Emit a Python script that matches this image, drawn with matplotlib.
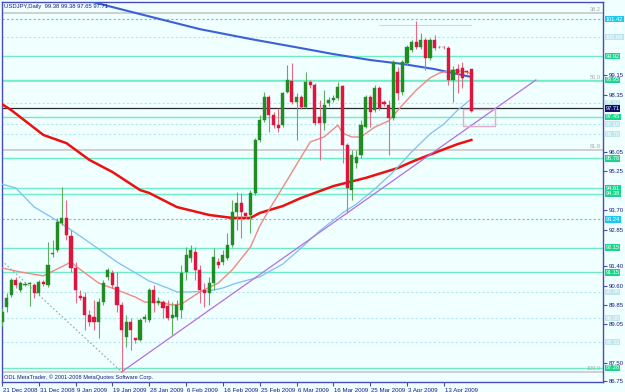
import matplotlib
matplotlib.use("Agg")
import matplotlib.pyplot as plt
import matplotlib.transforms as mtransforms
from matplotlib.patches import Rectangle

plt.rcParams['font.family'] = ['Liberation Sans', 'DejaVu Sans']

# ---------------- data ----------------
date_labels = ["21 Dec 2008", "31 Dec 2008", "9 Jan 2009", "19 Jan 2009", "28 Jan 2009",
               "6 Feb 2009", "16 Feb 2009", "25 Feb 2009", "6 Mar 2009", "16 Mar 2009",
               "25 Mar 2009", "3 Apr 2009", "13 Apr 2009"]
date_label_bars = [0, 8, 16, 24, 32, 40, 48, 56, 64, 72, 80, 88, 96]

opens = [89.14, 89.75, 90.24, 90.84, 90.44, 90.66, 90.70, 90.64, 90.32, 90.76,
         90.64, 91.90, 92.06, 93.15, 93.36, 92.63, 91.33, 90.20, 90.15, 89.43,
         89.34, 89.14, 89.95, 90.97, 91.13, 90.56, 89.83, 88.53, 89.14, 88.49,
         88.41, 89.26, 89.22, 90.44, 89.91, 89.95, 89.79, 89.30, 89.34, 89.63,
         91.17, 91.74, 91.98, 91.25, 90.44, 90.32, 90.72, 91.57, 91.57, 91.74,
         92.26, 93.60, 93.96, 93.56, 93.48, 94.37, 96.52, 97.33, 98.26, 97.53,
         97.12, 97.12, 98.46, 98.91, 98.06, 98.26, 97.85, 98.87, 98.75, 97.45,
         97.21, 98.02, 98.14, 98.22, 98.70, 96.31, 94.49, 95.58, 95.91, 97.04,
         98.26, 97.73, 98.62, 98.06, 97.93, 97.41, 99.27, 98.46, 99.64, 100.16,
         100.49, 100.29, 100.57, 99.84, 100.57, 100.27, 100.29, 100.24, 98.95, 99.39,
         99.43, 99.29, 99.38]
highs = [89.71, 90.32, 90.92, 90.97, 90.80, 90.76, 90.76, 90.72, 90.84, 90.84,
         92.38, 92.46, 93.36, 94.61, 94.09, 92.87, 91.57, 90.44, 90.36, 89.63,
         90.03, 90.11, 90.84, 91.33, 91.25, 91.17, 89.95, 89.43, 89.30, 88.49,
         89.30, 89.47, 90.52, 90.64, 90.15, 90.03, 90.03, 89.95, 90.03, 91.45,
         92.18, 92.26, 92.18, 91.45, 90.72, 90.97, 92.14, 91.74, 92.06, 92.75,
         94.09, 94.41, 94.37, 93.60, 94.49, 96.60, 97.53, 98.46, 98.34, 97.65,
         97.81, 98.46, 99.56, 99.64, 98.42, 98.34, 99.27, 98.95, 98.83, 98.14,
         98.54, 98.26, 98.34, 98.87, 98.75, 96.39, 96.11, 96.11, 97.33, 98.34,
         98.34, 98.75, 98.70, 98.14, 98.14, 99.76, 99.47, 99.76, 100.37, 100.57,
         101.34, 100.85, 100.65, 100.65, 100.77, 100.33, 100.33, 100.33, 99.52, 99.60,
         99.68, 99.35, 99.38]
lows = [88.98, 89.55, 90.15, 90.52, 90.36, 90.60, 89.79, 90.11, 90.24, 90.60,
        90.56, 91.78, 91.98, 93.07, 92.46, 91.17, 89.91, 90.03, 88.82, 88.98,
        88.82, 88.49, 89.83, 90.84, 90.52, 89.55, 87.12, 88.13, 88.01, 88.29,
        88.37, 89.14, 89.14, 89.55, 89.83, 89.30, 89.22, 88.62, 89.22, 89.30,
        90.84, 91.57, 90.84, 89.91, 89.75, 89.83, 90.44, 91.33, 91.45, 91.65,
        92.18, 92.87, 92.55, 93.36, 92.75, 94.29, 96.43, 97.25, 96.84, 97.00,
        96.84, 97.04, 98.42, 97.98, 96.52, 97.77, 97.81, 98.62, 97.12, 95.71,
        96.92, 97.89, 98.06, 98.14, 95.58, 93.56, 94.09, 95.38, 95.79, 97.00,
        97.04, 97.65, 97.73, 97.89, 95.91, 97.33, 98.14, 98.34, 99.56, 100.08,
        100.20, 100.20, 99.35, 99.76, 100.16, 100.24, 100.20, 98.75, 98.06, 98.42,
        98.62, 99.19, 97.65]
closes = [89.55, 90.11, 90.84, 90.64, 90.72, 90.68, 90.72, 90.32, 90.76, 90.68,
          91.45, 91.94, 93.19, 93.36, 92.67, 91.33, 90.44, 90.11, 89.43, 89.14,
          89.14, 89.95, 90.72, 91.25, 90.64, 89.83, 88.82, 89.14, 88.82, 88.41,
          89.22, 89.34, 90.44, 89.91, 89.99, 89.71, 89.30, 89.43, 89.83, 91.13,
          91.86, 92.06, 91.25, 90.44, 90.32, 90.72, 91.78, 91.45, 91.86, 92.26,
          93.60, 93.96, 93.60, 93.44, 94.37, 96.52, 97.33, 98.26, 97.53, 97.12,
          97.00, 98.42, 98.95, 98.06, 98.26, 97.85, 98.87, 98.75, 97.21, 97.21,
          97.93, 98.14, 98.22, 98.66, 96.31, 94.57, 95.91, 95.83, 97.12, 98.26,
          97.65, 98.62, 97.81, 97.98, 97.41, 99.68, 98.42, 99.68, 100.29, 100.49,
          100.29, 100.57, 99.84, 100.57, 100.24, 100.29, 100.27, 98.95, 99.35, 99.23,
          99.03, 99.27, 97.71]

# moving averages, read at sampled bars
ma_red_bars = [0, 2, 9, 14, 19, 24, 30, 32, 38, 45, 50, 54, 56, 61, 65, 72, 79, 86, 89, 95, 99, 102]
ma_red_vals = [97.97, 97.73, 96.72, 96.39, 95.71, 95.22, 94.49, 94.37, 93.80, 93.48, 93.36,
               93.36, 93.56, 93.84, 94.17, 94.65, 94.98, 95.38, 95.63, 96.07, 96.35, 96.52]
ma_blue_bars = [0, 18, 30, 43, 54, 65, 72, 80, 87, 94, 102]
ma_blue_vals = [103.10, 102.19, 101.62, 101.01, 100.61, 100.24, 100.00, 99.76, 99.60, 99.39, 99.07]
ma_pink_bars = [0, 4, 9, 15, 16, 21, 25, 29, 31, 34, 37, 39, 43, 47, 50, 54, 56, 58, 62, 65,
                67, 70, 73, 74, 76, 78, 81, 84, 87, 90, 93, 95, 98, 101, 102]
ma_pink_vals = [91.33, 91.17, 91.01, 91.57, 91.41, 90.72, 90.44, 90.15, 89.95, 89.95, 89.83,
                89.87, 90.36, 90.72, 91.25, 92.18, 93.03, 93.68, 94.90, 95.83, 96.44, 96.64,
                97.12, 96.80, 96.64, 96.64, 97.04, 97.29, 97.93, 98.54, 99.03, 99.23, 99.35,
                99.27, 99.19]
ma_sky_bars = [0, 3, 7, 11, 16, 21, 25, 29, 32, 36, 38, 41, 45, 48, 51, 56, 61, 65, 69, 74,
               77, 81, 85, 89, 93, 96, 99, 102]
ma_sky_vals = [94.73, 94.57, 93.80, 93.36, 92.75, 92.10, 91.57, 91.13, 90.80, 90.52, 90.36,
               90.36, 90.40, 90.52, 90.72, 90.97, 91.49, 92.14, 92.83, 93.56, 93.92, 94.53,
               95.22, 96.03, 96.76, 97.16, 97.73, 98.18]

# trend line through the two lows, and fibonacci anchors
trend_bars = [26, 75]
trend_prices = [87.12, 93.56]
trend_end_bar = 116
fib_high_bar, fib_high = -110, 110.66
fib_low_bar, fib_low = 26, 87.12
fib_ratios = [0.382, 0.5, 0.618, 1.0]
fib_texts = ["38.2", "50.0", "61.8", "100.0"]

# horizontal levels: (price, label)
solid_levels = [99.92, 98.95, 97.45, 95.78, 94.57, 94.33, 92.15, 91.15, 87.28]
solid_labels = ["99.92", "98.95", "97.45", "95.78", "94.61", "94.38", "92.15", "91.15", "87.28"]
cyan_levels = [101.42, 93.30]
cyan_labels = ["101.42", "93.24"]
pale_levels = [100.69, 98.02, 97.16, 96.76, 90.36, 89.30, 88.33]
pale_labels = ["100.69", "98.02", "97.16", "96.76", "90.36", "89.30", "88.33"]
bid_price = 97.80
bid_label = "97.71"

yticks = [99.15, 98.35, 96.05, 95.25, 93.70, 92.85, 91.40, 90.60, 89.85, 89.05, 87.50, 86.75]

rect_bars = [100.2, 107.2]
rect_prices = [97.08, 97.77]
top_line_bars = [82, 102]
top_line_price = 101.17

# ---------------- drawing ----------------
BG = '#F0FFFF'
NAVY = '#1A1A80'
FRAME = '#4B4BB8'

fig = plt.figure(figsize=(6.25, 3.92), dpi=100, facecolor=BG)
ax = fig.add_axes([2/625, 1 - 382/392, 601/625, 380/392])
ax.set_facecolor(BG)
ax.set_xlim(0.02, 130.6)
ax.set_ylim(86.71, 102.11)

tr = mtransforms.blended_transform_factory(ax.transAxes, ax.transData)

# fib levels
for r, t in zip(fib_ratios, fib_texts):
    p = fib_low + (1 - r) * (fib_high - fib_low)
    ax.axhline(p, color='#C4C4C4', lw=1.1, zorder=1)
    ax.text(0.997, p + 0.04, t, transform=tr,
            ha='right', va='bottom', fontsize=4.1, color='#A8A8A8', zorder=2)
ax.plot([fib_high_bar, fib_low_bar], [fib_high, fib_low], color='#A0A0A0', lw=0.8,
        ls=(0, (1.5, 2)), zorder=2)

for p in solid_levels:
    ax.axhline(p, color='#70EBC4', lw=1.0, zorder=1)
for p in cyan_levels:
    ax.axhline(p, color='#38D8F0', lw=0.8, ls=(0, (2, 2)), zorder=1)
for p in pale_levels:
    ax.axhline(p, color='#B4E6EE', lw=0.8, ls=(0, (2, 2)), zorder=1)
ax.axhline(bid_price, color='#2A2A2A', lw=0.9, zorder=1)

# moving averages
ax.plot(ma_blue_bars, ma_blue_vals, color='#3A5FD9', lw=1.5, zorder=4)
ax.plot(ma_red_bars, ma_red_vals, color='#EE1010', lw=1.8, zorder=4)
ax.plot(ma_pink_bars, ma_pink_vals, color='#F08A80', lw=1.0, zorder=4)
ax.plot(ma_sky_bars, ma_sky_vals, color='#7EC0F2', lw=0.9, zorder=4)

# trend line
slope = (trend_prices[1] - trend_prices[0]) / (trend_bars[1] - trend_bars[0])
ax.plot([trend_bars[0], trend_end_bar],
        [trend_prices[0], trend_prices[0] + slope * (trend_end_bar - trend_bars[0])],
        color='#B46EE6', lw=0.9, zorder=4)

# rectangle and top line
ax.add_patch(Rectangle((rect_bars[0], rect_prices[0]), rect_bars[1] - rect_bars[0],
                       rect_prices[1] - rect_prices[0], fill=False, ec='#E8A8C8', lw=1.0, zorder=4))
ax.plot(top_line_bars, [top_line_price] * 2, color='#F4C8CC', lw=0.8, zorder=2)

# candles
up_c, dn_c = '#238B23', '#E0143C'
up_w, dn_w = '#5FAE5F', '#EA6A84'
for i, (o, h, l, c) in enumerate(zip(opens, highs, lows, closes)):
    up = c >= o
    col = up_c if up else dn_c
    ax.plot([i, i], [l, h], color=up_w if up else dn_w, lw=0.8, zorder=5, solid_capstyle='butt')
    lo, hi = min(o, c), max(o, c)
    hgt = max(hi - lo, 0.03)
    ax.add_patch(Rectangle((i - 0.34, lo), 0.68, hgt, fc=col, ec=col, lw=0.3, zorder=6))

# right-side price boxes
def box(p, txt, fc, tc='white'):
    ax.text(1.004, p, txt, transform=tr, ha='left', va='center', fontsize=4.1, color=tc,
            bbox=dict(boxstyle='square,pad=0.15', fc=fc, ec='none'), zorder=10, clip_on=False)

for p, t in zip(pale_levels, pale_labels):
    box(p, t, '#BEE6EE')
for p, t in zip(solid_levels, solid_labels):
    box(p, t, '#19D68C')
for p, t in zip(cyan_levels, cyan_labels):
    box(p, t, '#1CC8EE')
box(bid_price, bid_label, '#10106A')

# axes styling
for s in ax.spines.values():
    s.set_color(FRAME)
    s.set_linewidth(1.0)
ax.yaxis.tick_right()
ax.set_yticks(yticks)
ax.set_yticklabels([f"{v:.2f}" for v in yticks])
ax.tick_params(axis='y', direction='out', length=3, width=0.8, color=FRAME, labelsize=4.3,
               labelcolor=NAVY, pad=1)
ax.set_xticks(date_label_bars)
ax.set_xticklabels(date_labels, ha='left')
ax.tick_params(axis='x', direction='out', length=3, width=0.8, color=FRAME, labelsize=4.4,
               labelcolor=NAVY, pad=1)
for lbl in ax.get_xticklabels():
    lbl.set_transform(lbl.get_transform() + mtransforms.ScaledTranslation(1/100, 0, fig.dpi_scale_trans))

ax.text(0.004, 0.994, "USDJPY,Daily  99.38 99.38 97.65 97.71", transform=ax.transAxes,
        ha='left', va='top', fontsize=4.2, color=NAVY, zorder=11)
ax.text(0.003, 0.006, "ODL MetaTrader, \u00a9 2001-2008 MetaQuotes Software Corp.", transform=ax.transAxes,
        ha='left', va='bottom', fontsize=4.1, color=NAVY, zorder=11)

fig.savefig("out.png", dpi=100, facecolor=BG)
